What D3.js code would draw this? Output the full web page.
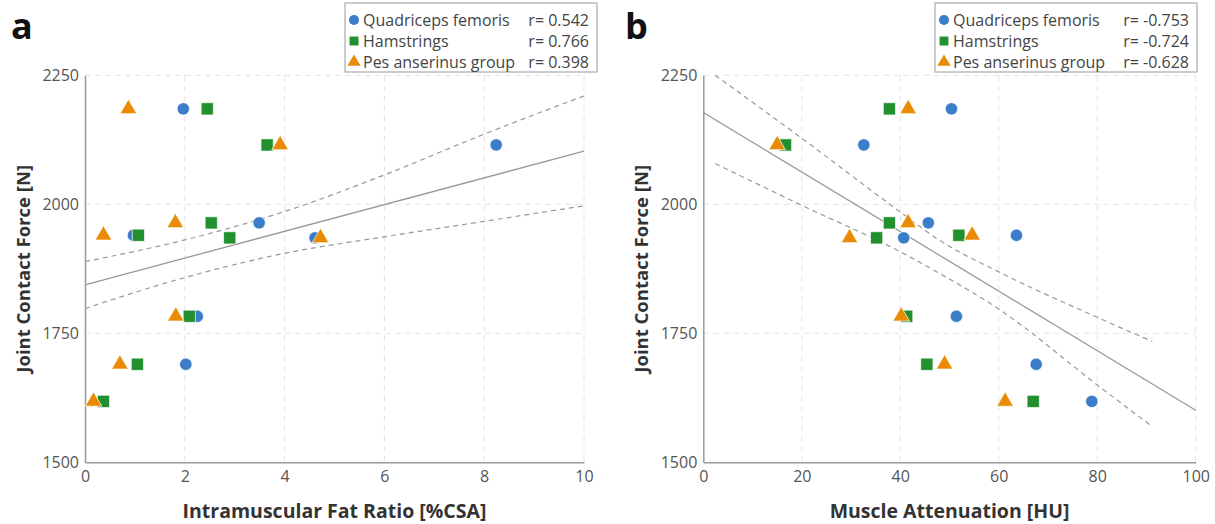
<!DOCTYPE html>
<html>
<head>
<meta charset="utf-8">
<script src="https://cdn.jsdelivr.net/npm/d3@7"></script>
<style>
  body { margin: 0; background: #fff; }
  svg { font-family: "Open Sans", "DejaVu Sans", sans-serif; }
</style>
</head>
<body>
<svg id="chart" width="1215" height="524"></svg>
<script>
// joint contact force per subject (shared by both panels)
const forceN = [2185, 2115, 1964, 1940, 1935, 1783, 1690, 1618];

// panel a: intramuscular fat ratio [%CSA]
const fatQuad = [1.97, 8.24, 3.49, 0.97, 4.61, 2.25, 2.02, 0.35];
const fatHam  = [2.45, 3.65, 2.53, 1.07, 2.90, 2.09, 1.05, 0.37];
const fatPes  = [0.87, 3.91, 1.81, 0.37, 4.72, 1.82, 0.70, 0.17];

// panel b: muscle attenuation [HU]
const huQuad = [50.4, 32.6, 45.7, 63.6, 40.7, 51.4, 67.6, 78.9];
const huHam  = [37.8, 16.7, 37.8, 51.9, 35.2, 41.3, 45.4, 67.0];
const huPes  = [41.6, 15.0, 41.6, 54.6, 29.7, 40.2, 49.0, 61.3];

// regression lines and confidence bands
const fitAx = [0, 10], fitAy = [1844, 2103];
const bandAx = [0, 2, 4, 6, 8, 10];
const bandAup = [1889, 1931, 1986, 2057, 2136, 2210];
const bandAlo = [1798, 1858, 1905, 1937, 1967, 1997];

const fitBx = [0, 100], fitBy = [2178, 1601];
const bandBx = [2.4, 20, 40, 48, 60, 80, 91.2];
const bandBup = [2250, 2128, 1985, 1930, 1869, 1781, 1734];
const bandBlo = [2079, 1998, 1908, 1866, 1797, 1650, 1569];

const seriesNames = ["Quadriceps femoris", "Hamstrings", "Pes anserinus group"];
const rA = ["r= 0.542", "r= 0.766", "r= 0.398"];
const rB = ["r= -0.753", "r= -0.724", "r= -0.628"];

const yTicks = [1500, 1750, 2000, 2250];
const xTicksA = [0, 2, 4, 6, 8, 10];
const xTicksB = [0, 20, 40, 60, 80, 100];

const colors = ["#3b7dc8", "#22902f", "#e98b05"];
const shapes = [d3.symbolCircle, d3.symbolSquare, d3.symbolTriangle];
const markerSize = [120, 150, 120];

const svg = d3.select("#chart");

function drawPanel(opt) {
  const g = svg.append("g");
  const x = d3.scaleLinear().domain(opt.xDomain).range([opt.left, opt.right]);
  const y = d3.scaleLinear().domain([1500, 2250]).range([462.3, 75.3]);

  // grid
  g.append("g").selectAll("line").data(yTicks.slice(1)).join("line")
    .attr("x1", opt.left).attr("x2", opt.right)
    .attr("y1", d => y(d)).attr("y2", d => y(d))
    .attr("stroke", "#e4e4e4").attr("stroke-dasharray", "6,4");
  g.append("g").selectAll("line").data(opt.xTicks.slice(1)).join("line")
    .attr("x1", d => x(d)).attr("x2", d => x(d))
    .attr("y1", y(2250)).attr("y2", y(1500))
    .attr("stroke", "#e4e4e4").attr("stroke-dasharray", "6,4");

  // axes
  const yAxis = d3.axisLeft(y).tickValues(yTicks).tickSize(0).tickPadding(6).tickFormat(d3.format("d"));
  const xAxis = d3.axisBottom(x).tickValues(opt.xTicks).tickSize(0).tickPadding(8).tickFormat(d3.format("d"));
  const ya = g.append("g").attr("transform", `translate(${opt.left},0)`).call(yAxis);
  const xa = g.append("g").attr("transform", `translate(0,${y(1500)})`).call(xAxis);
  [ya, xa].forEach(a => {
    a.select(".domain").attr("stroke", "#999").attr("stroke-width", 1.5);
    a.selectAll("text").attr("font-size", 16).attr("fill", "#555")
      .attr("font-family", "'Open Sans', sans-serif");
  });

  // confidence band + fit
  const line = d3.line().x(d => x(d[0])).y(d => y(d[1]));
  const curved = d3.line().x(d => x(d[0])).y(d => y(d[1])).curve(d3.curveMonotoneX);
  g.append("path").datum(d3.zip(opt.bandX, opt.bandUp)).attr("d", curved)
    .attr("fill", "none").attr("stroke", "#999").attr("stroke-width", 1.2).attr("stroke-dasharray", "5,4");
  g.append("path").datum(d3.zip(opt.bandX, opt.bandLo)).attr("d", curved)
    .attr("fill", "none").attr("stroke", "#999").attr("stroke-width", 1.2).attr("stroke-dasharray", "5,4");
  g.append("path").datum(d3.zip(opt.fitX, opt.fitY)).attr("d", line)
    .attr("fill", "none").attr("stroke", "#999").attr("stroke-width", 1.3);

  // points
  opt.xs.forEach((xs, i) => {
    g.append("g").selectAll("path").data(d3.zip(xs, forceN)).join("path")
      .attr("transform", d => `translate(${x(d[0])},${y(d[1])})`)
      .attr("d", d3.symbol(shapes[i], markerSize[i]))
      .attr("fill", colors[i]).attr("stroke", "#fff").attr("stroke-opacity", 0.7).attr("stroke-width", 1);
  });

  // axis titles
  g.append("text").attr("x", (opt.left + opt.right) / 2).attr("y", 518)
    .attr("text-anchor", "middle").attr("font-weight", "bold").attr("font-size", 19.5)
    .attr("fill", "#333").text(opt.xTitle);
  g.append("text").attr("transform", `translate(${opt.left - 55},${y(1875)}) rotate(-90)`)
    .attr("text-anchor", "middle").attr("font-weight", "bold").attr("font-size", 18.5)
    .attr("fill", "#333").text("Joint Contact Force [N]");

  // panel letter
  g.append("text").attr("x", opt.letterX).attr("y", 39)
    .attr("font-weight", "bold").attr("font-size", 36).attr("fill", "#111").text(opt.letter);

  // legend
  const lg = g.append("g");
  lg.append("rect").attr("x", opt.legX).attr("y", 3).attr("width", opt.legW).attr("height", 69)
    .attr("fill", "#fff").attr("stroke", "#999").attr("stroke-width", 1);
  seriesNames.forEach((name, i) => {
    const ry = 20 + i * 21;
    lg.append("path").attr("transform", `translate(${opt.legX + 9},${ry})`)
      .attr("d", d3.symbol(shapes[i], i === 2 ? 75 : 80)).attr("fill", colors[i]);
    lg.append("text").attr("x", opt.legX + 18).attr("y", ry).attr("dy", "0.35em")
      .attr("font-size", 16).attr("fill", "#444").text(name);
    lg.append("text").attr("x", opt.legX + opt.legW - 8).attr("y", ry).attr("dy", "0.35em")
      .attr("text-anchor", "end").attr("font-size", 16).attr("fill", "#444").text(opt.r[i]);
  });
}

drawPanel({
  left: 85, right: 584, xDomain: [0, 10], xTicks: xTicksA,
  xs: [fatQuad, fatHam, fatPes],
  fitX: fitAx, fitY: fitAy, bandX: bandAx, bandUp: bandAup, bandLo: bandAlo,
  xTitle: "Intramuscular Fat Ratio [%CSA]", letter: "a", letterX: 11,
  legX: 345, legW: 252, r: rA
});

drawPanel({
  left: 703.3, right: 1195.7, xDomain: [0, 100], xTicks: xTicksB,
  xs: [huQuad, huHam, huPes],
  fitX: fitBx, fitY: fitBy, bandX: bandBx, bandUp: bandBup, bandLo: bandBlo,
  xTitle: "Muscle Attenuation [HU]", letter: "b", letterX: 625,
  legX: 935, legW: 262, r: rB
});
</script>
</body>
</html>
